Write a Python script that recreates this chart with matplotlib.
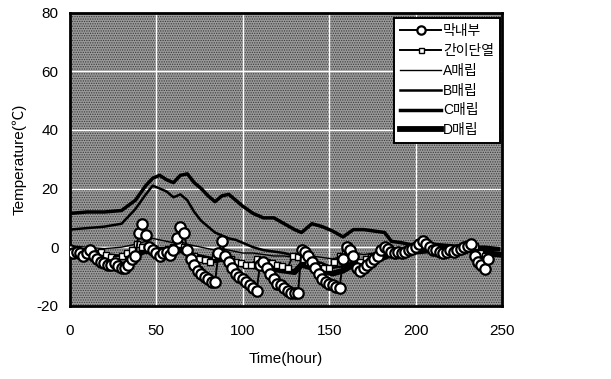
import matplotlib
matplotlib.use("Agg")
import matplotlib.pyplot as plt
import numpy as np

plt.rcParams['font.family'] = ['Liberation Sans', 'Noto Sans CJK KR', 'DejaVu Sans']
plt.rcParams['axes.unicode_minus'] = False
plt.rcParams['hatch.linewidth'] = 0.6

# ---- data ----
hours_in = list(range(0, 244, 2))
maknaebu = [-1, -2, -1.5, -2, -3, -2, -1, -3, -4, -5, -5.5, -6, -6, -5.5, -6.5, -7, -7, -6, -4, -3,
            5, 8, 4, 0, -1, -2, -3, -2, -1.5, -2.5, -1, 3, 7, 5, -1, -4, -6, -8, -9, -10,
            -11, -12, -12, -2, 2, -3, -5, -7, -9, -10, -11, -12, -13, -14, -15, -6, -5, -7, -9, -11,
            -12.5, -13, -14, -15, -15.5, -15.5, -15.5, -1, -1.5, -3, -5, -7, -9, -11, -12, -12.5, -13, -13.5, -14, -4,
            0, -1, -3, -7, -8, -7, -6, -5, -4, -3, -1, 0, -0.5, -1.5, -2, -1.5, -2, -1.5, -1, -0.5,
            0, 1, 2, 1, 0, -1, -1, -1.5, -2, -1.5, -1, -1.5, -1, -0.5, 0, 0.5, 1, -3, -5, -6,
            -7.5, -4]

hours_sq = list(range(0, 241, 3))
ganidanyeol = [-1, -1.5, -2, -2.5, -3, -2, -1.5, -2.5, -3.5, -4, -3, -2, -1, 1, 0, -1,
               -1.5, -2, -1, -0.5, 0, 1, 0, -2, -3, -4, -4.5, -5, -3, -2, -3, -4,
               -5, -5.5, -6, -6, -4, -4.5, -5, -5.5, -6, -6.5, -7, -3, -3.5, -4, -5, -6,
               -6.5, -7, -7, -5, -3, -2, -3, -4, -5, -4, -3.5, -3, -2, -1, -1.5, -2,
               -1.5, -1, -0.5, 0, 1, 0.5, 0, -1, -1, -1.5, -1, -0.5, -1, 0, 0.5, -2,
               -3]

hours_line = [0, 10, 20, 30, 38, 44, 48, 52, 56, 60, 64, 68, 72, 76, 80, 84, 88, 92, 96, 100,
              106, 112, 118, 124, 130, 134, 140, 146, 152, 158, 164, 170, 176, 182, 186, 192, 200, 210, 220, 230, 240, 248]
a_maerip = [0.5, 0, -0.5, 0, 1, 2, 3, 2.5, 2, 1.5, 2, 1, 0.5, 0, -0.5, -1, -0.5, -1, -1.5, -2,
            -2, -2.5, -3, -3, -3.5, -2, -3, -3.5, -4, -3, -2, -2.5, -2, -1, -1, -0.5, 0, 0, -0.5, 0, -0.5, -1]
b_maerip = [6, 6.5, 7, 8, 13, 18, 21, 20, 19, 17, 18, 16, 12, 9, 7, 5, 4, 3, 2.5, 1.5,
            0, -1, -1.5, -2, -3, -3.5, -4.5, -5.5, -7, -6.5, -5, -6, -5.5, -4, -3, -2.5, -1, 0.5, 0, -0.5, -1, -1]
c_maerip = [11.5, 12, 12, 12.5, 16, 21, 23.5, 24.5, 23, 22, 24.5, 25, 22, 20, 17.5, 15.5, 17.5, 18, 16, 14,
            11.5, 10, 10, 8, 6, 5, 8, 7, 5.5, 3.5, 6, 6, 5.5, 5, 2, 1.5, 0.5, 1, 0.5, 0, 0, -0.5]
d_maerip = [-2, -2.5, -3, -3.5, -3, -1, 0, -1, -1.5, -2, -1, -2, -3, -3.5, -4, -4.5, -4, -5, -5.5, -6,
            -6.5, -7, -7.5, -8, -8.5, -6, -7, -8, -9, -8, -6, -6.5, -5, -3, -2.5, -2, -1.5, -1, -1.5, -1, -2, -2.5]

x_ticks = [0, 50, 100, 150, 200, 250]
y_ticks = [-20, 0, 20, 40, 60, 80]

# ---- plot ----
fig = plt.figure(figsize=(6.11, 3.79), dpi=100)
ax = fig.add_axes([0.114, 0.193, 0.708, 0.774])
ax.set_facecolor('#9a9a9a')
ax.patch.set_hatch('.......')
ax.patch.set_edgecolor('#3a3a3a')

ax.plot(hours_line, a_maerip, color='black', lw=1.0, label='A매립', zorder=3)
ax.plot(hours_line, b_maerip, color='black', lw=1.8, label='B매립', zorder=3)
ax.plot(hours_line, c_maerip, color='black', lw=2.5, label='C매립', zorder=3)
ax.plot(hours_line, d_maerip, color='black', lw=4.2, label='D매립', zorder=3)
ax.plot(hours_sq, ganidanyeol, color='black', lw=1.4, marker='s', ms=4.5, mfc='white', mec='black',
        mew=1.0, label='간이단열', zorder=4)
ax.plot(hours_in, maknaebu, color='black', lw=1.4, marker='o', ms=7.5, mfc='white', mec='black',
        mew=1.6, label='막내부', zorder=5)

ax.set_xlim(0, 250)
ax.set_ylim(-20, 80)
ax.set_xticks(x_ticks)
ax.set_yticks(y_ticks)
ax.grid(True, color='white', lw=1.0)
ax.set_axisbelow(True)
ax.tick_params(axis='x', length=0, labelsize=11, pad=13)
ax.tick_params(axis='y', length=0, labelsize=11, pad=8)
for s in ax.spines.values():
    s.set_linewidth(2.0)
    s.set_color('black')

ax.set_xlabel('Time(hour)', fontsize=11, labelpad=10)
ax.set_ylabel('Temperature(℃)', fontsize=11, labelpad=7)

handles, labels = ax.get_legend_handles_labels()
order = [5, 4, 0, 1, 2, 3]
leg = ax.legend([handles[i] for i in order], [labels[i] for i in order],
                loc='upper right', bbox_to_anchor=(0.995, 0.982), borderaxespad=0,
                fontsize=10, frameon=True, fancybox=False, edgecolor='black',
                handlelength=3.0, handletextpad=0.1, labelspacing=0.42, borderpad=0.45,
                markerscale=0.8)
leg.get_frame().set_linewidth(1.4)
leg.get_frame().set_facecolor('white')
leg.get_frame().set_hatch('')
leg.get_frame().set_alpha(1)

fig.savefig('out.png', dpi=100)
